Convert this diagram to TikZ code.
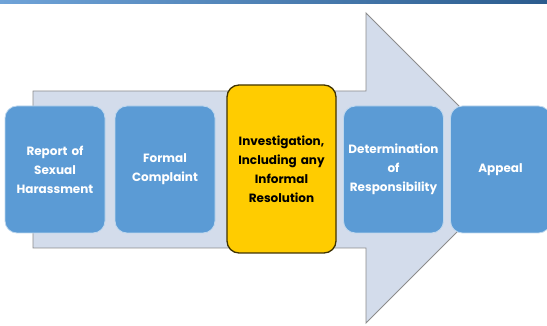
\documentclass[tikz,border=0pt]{standalone}
\usepackage{fontspec}
\setmainfont{Poppins}
\definecolor{boxblue}{HTML}{5B9BD5}
\definecolor{arrowfill}{HTML}{D3DCEB}
\definecolor{arrowline}{HTML}{8C8C8C}
\definecolor{stepyellow}{HTML}{FFCC00}
\definecolor{barleft}{HTML}{6FA3D8}
\definecolor{barright}{HTML}{2B5C8E}
\tikzset{
  stage/.style={draw=white!60!boxblue, line width=0.8pt, fill=boxblue,
    rounded corners=12pt, minimum width=98pt, minimum height=127pt,
    text width=100pt, align=center, inner sep=0pt, text=white,
    font=\bfseries\fontsize{12}{19}\selectfont},
  current/.style={stage, draw=black!75!stepyellow, line width=1.3pt,
    fill=stepyellow, text=black, minimum width=109pt, minimum height=168pt,
    text width=107pt}
}
\begin{document}
\begin{tikzpicture}[x=1pt,y=-1pt]
	\useasboundingbox (0,0) rectangle (547,326);
	\clip (0,0) rectangle (547,326);
	\shade[left color=barleft, right color=barright] (0,0) rectangle (547,4);
	\draw[arrowline, fill=arrowfill, line width=0.9pt] (33,91) -- (366,91) -- (366,13) -- (521,168) -- (366,323) -- (366,248) -- (33,248) -- cycle;
	\node[stage] (report) at (55,169.5) {Report of\\Sexual\\Harassment};
	\node[stage] (complaint) at (165,169.5) {Formal\\Complaint};
	\node[current] (investigation) at (281.5,169) {Investigation,\\Including any\\Informal\\Resolution};
	\node[stage] (determination) at (393.5,169.5) {Determination\\of\\Responsibility};
	\node[stage] (appeal) at (500.5,169.5) {Appeal};
\end{tikzpicture}
\end{document}
